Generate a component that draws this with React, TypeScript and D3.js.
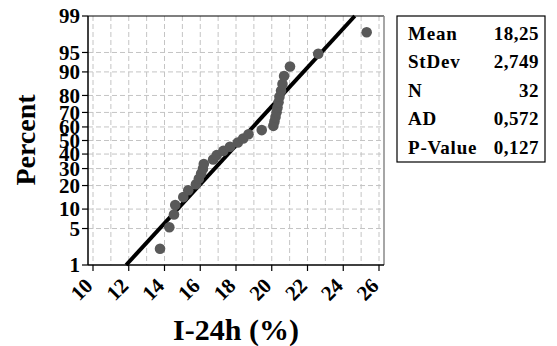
import React from 'react';
import * as d3 from 'd3';

const observations = [
  13.75, 14.27, 14.53, 14.6, 15.05, 15.33, 15.76, 15.92,
  16.05, 16.15, 16.2, 16.72, 16.92, 17.29, 17.66, 18.1,
  18.4, 18.7, 19.44, 20.09, 20.15, 20.21, 20.27, 20.32,
  20.38, 20.43, 20.52, 20.6, 20.69, 21.02, 22.6, 25.31,
];
const percentTicks = [1, 5, 10, 20, 30, 40, 50, 60, 70, 80, 90, 95, 99];
const xTicks = [10, 12, 14, 16, 18, 20, 22, 24, 26];
const xGrid = [10, 11, 12, 13, 14, 15, 16, 17, 18, 19, 20, 21, 22, 23, 24, 25, 26];
const statLabels = ['Mean', 'StDev', 'N', 'AD', 'P-Value'];
const statValues = ['18,25', '2,749', '32', '0,572', '0,127'];
const fitMean = 18.25;
const fitSd = 2.749;

// inverse standard normal CDF (Acklam)
function qnorm(p: number): number {
  const a = [-3.969683028665376e1, 2.209460984245205e2, -2.759285104469687e2, 1.38357751867269e2, -3.066479806614716e1, 2.506628277459239];
  const b = [-5.447609879822406e1, 1.615858368580409e2, -1.556989798598866e2, 6.680131188771972e1, -1.328068155288572e1];
  const c = [-7.784894002430293e-3, -3.223964580411365e-1, -2.400758277161838, -2.549732539343734, 4.374664141464968, 2.938163982698783];
  const d = [7.784695709041462e-3, 3.224671290700398e-1, 2.445134137142996, 3.754408661907416];
  const pl = 0.02425;
  let q, r;
  if (p < pl) {
    q = Math.sqrt(-2 * Math.log(p));
    return (((((c[0] * q + c[1]) * q + c[2]) * q + c[3]) * q + c[4]) * q + c[5]) / ((((d[0] * q + d[1]) * q + d[2]) * q + d[3]) * q + 1);
  } else if (p <= 1 - pl) {
    q = p - 0.5;
    r = q * q;
    return ((((((a[0] * r + a[1]) * r + a[2]) * r + a[3]) * r + a[4]) * r + a[5]) * q) / (((((b[0] * r + b[1]) * r + b[2]) * r + b[3]) * r + b[4]) * r + 1);
  } else {
    q = Math.sqrt(-2 * Math.log(1 - p));
    return -(((((c[0] * q + c[1]) * q + c[2]) * q + c[3]) * q + c[4]) * q + c[5]) / ((((d[0] * q + d[1]) * q + d[2]) * q + d[3]) * q + 1);
  }
}

const W = 557, H = 346;
const L = 88, R = 384, T = 16, B = 265;
const FONT = "'Liberation Serif', 'Times New Roman', Times, serif";

export default function App() {
  const x = d3.scaleLinear().domain([10 - 5 / 17.875, 26 + 5 / 17.875]).range([L, R]);
  const y = d3.scaleLinear().domain([qnorm(0.01), qnorm(0.99)]).range([B, T]);
  const yp = (pct: number) => y(qnorm(pct / 100));
  const n = observations.length;
  const pts = observations.map((v, i) => ({ v, p: (i + 1 - 0.3) / (n + 0.4) }));
  const line = d3.line<number>().x((p) => x(fitMean + fitSd * qnorm(p))).y((p) => y(qnorm(p)));
  const fitPts = [0.01, 0.99];
  const tStyle = { fontFamily: FONT, fontWeight: 700 } as React.CSSProperties;

  return (
    <svg width={W} height={H} style={{ position: 'absolute', left: 0, top: 0, background: '#fff' }}>
      <rect x={0} y={0} width={W} height={H} fill="#fff" />
      {/* grid */}
      {xGrid.map((g) => (
        <line key={'vx' + g} x1={x(g)} x2={x(g)} y1={T} y2={B} stroke="#c4c4c4" strokeWidth={1} strokeDasharray="5,3" />
      ))}
      {percentTicks.filter((t) => t !== 1 && t !== 99).map((t) => (
        <line key={'hy' + t} x1={L} x2={R} y1={yp(t)} y2={yp(t)} stroke="#c4c4c4" strokeWidth={1} strokeDasharray="5,3" />
      ))}
      {/* frame */}
      <line x1={L} x2={R} y1={T} y2={T} stroke="#000" strokeWidth={1.2} />
      <line x1={R} x2={R} y1={T} y2={B} stroke="#888" strokeWidth={1.5} />
      <line x1={L} x2={L} y1={T} y2={B} stroke="#000" strokeWidth={1.5} />
      <line x1={L} x2={R} y1={B} y2={B} stroke="#000" strokeWidth={1.5} />
      {/* y ticks */}
      {percentTicks.map((t) => (
        <g key={'yt' + t}>
          <line x1={L - 6} x2={L} y1={yp(t)} y2={yp(t)} stroke="#000" strokeWidth={1.2} />
          <text x={L - 8} y={yp(t)} dy="0.35em" textAnchor="end" fontSize={21} style={tStyle}>{t}</text>
        </g>
      ))}
      {/* x ticks */}
      {xTicks.map((t) => (
        <g key={'xt' + t}>
          <line x1={x(t)} x2={x(t)} y1={B} y2={B + 6} stroke="#000" strokeWidth={1.2} />
          <text transform={`translate(${x(t) + 1},${B + 22}) rotate(-45)`} textAnchor="end" fontSize={21} style={tStyle}>{t}</text>
        </g>
      ))}
      {/* fitted line */}
      <path d={line(fitPts) || ''} stroke="#000" strokeWidth={4} fill="none" />
      {/* points */}
      {pts.map((d, i) => (
        <circle key={'p' + i} cx={x(d.v)} cy={y(qnorm(d.p))} r={5.3} fill="#595959" />
      ))}
      {/* axis titles */}
      <text x={236} y={340} textAnchor="middle" fontSize={30} style={tStyle}>I-24h (%)</text>
      <text transform="translate(35,140) rotate(-90)" textAnchor="middle" fontSize={28} style={tStyle}>Percent</text>
      {/* stats box */}
      <rect x={397} y={16} width={148} height={146} fill="#fff" stroke="#000" strokeWidth={1.2} />
      {statLabels.map((s, i) => (
        <g key={'s' + i}>
          <text x={408} y={39.5 + 28.5 * i} fontSize={19} style={tStyle} letterSpacing={0.8}>{s}</text>
          <text x={539} y={39.5 + 28.5 * i} fontSize={19} style={tStyle} textAnchor="end" letterSpacing={0.5}>{statValues[i]}</text>
        </g>
      ))}
    </svg>
  );
}
